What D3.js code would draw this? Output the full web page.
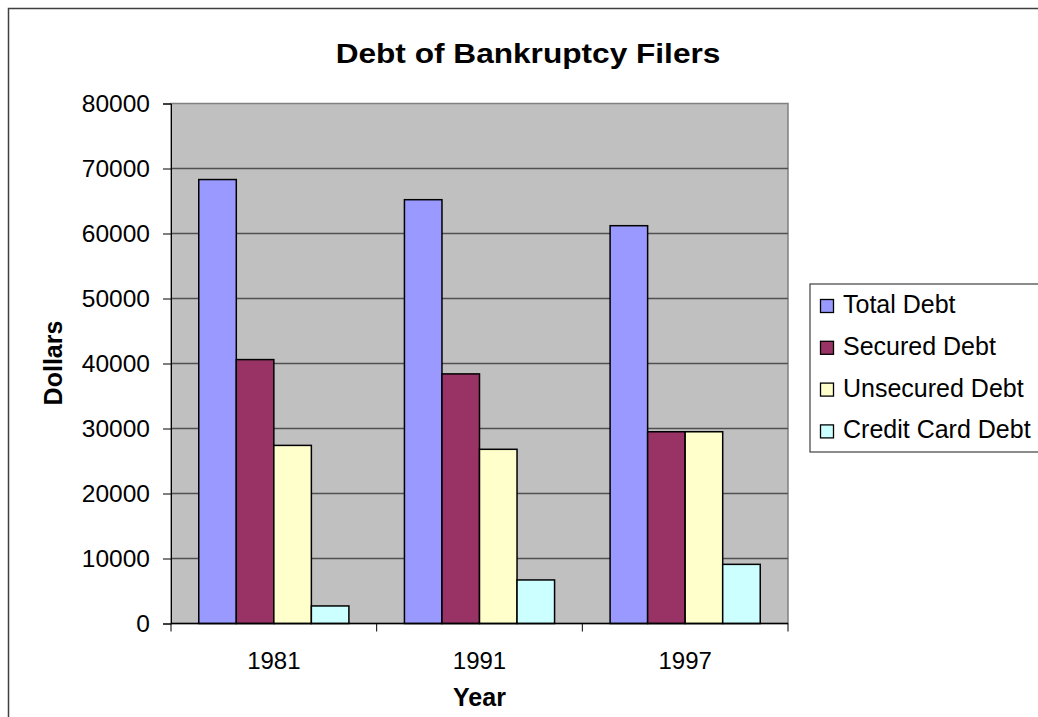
<!DOCTYPE html>
<html>
<head>
<meta charset="utf-8">
<script src="https://cdn.jsdelivr.net/npm/d3@7"></script>
<style>
  html, body { margin: 0; padding: 0; background: #ffffff; }
  svg { display: block; font-family: "Liberation Sans", Arial, sans-serif; }
</style>
</head>
<body>
<svg id="chart" width="1038" height="717"></svg>
<script>
const years = ["1981", "1991", "1997"];
const seriesNames = ["Total Debt", "Secured Debt", "Unsecured Debt", "Credit Card Debt"];
const totalDebt = [68300, 65200, 61200];
const securedDebt = [40600, 38400, 29500];
const unsecuredDebt = [27400, 26800, 29500];
const creditCardDebt = [2700, 6700, 9100];
const seriesColors = ["#9999ff", "#993366", "#ffffcc", "#ccffff"];
const yTicks = [0, 10000, 20000, 30000, 40000, 50000, 60000, 70000, 80000];
const chartTitle = "Debt of Bankruptcy Filers";
const xTitle = "Year";
const yTitle = "Dollars";

const seriesValues = [totalDebt, securedDebt, unsecuredDebt, creditCardDebt];

const svg = d3.select("#chart");
const plot = { left: 171, right: 788, top: 103.5, bottom: 623.5 };

// outer chart border
svg.append("rect")
  .attr("x", 8.5).attr("y", 8.5)
  .attr("width", 1045).attr("height", 720)
  .attr("fill", "#ffffff")
  .attr("stroke", "#404040").attr("stroke-width", 1.5);

const x0 = d3.scaleBand().domain(years).range([plot.left, plot.right])
  .paddingInner(0.27).paddingOuter(0.135);
const x1 = d3.scaleBand().domain(seriesNames).range([0, x0.bandwidth()]);
const y = d3.scaleLinear().domain([0, 80000]).range([plot.bottom, plot.top]);

// plot background
svg.append("rect")
  .attr("x", plot.left).attr("y", plot.top)
  .attr("width", plot.right - plot.left).attr("height", plot.bottom - plot.top)
  .attr("fill", "#c0c0c0")
  .attr("stroke", "#808080").attr("stroke-width", 1.5);

// gridlines
svg.append("g").selectAll("line")
  .data(yTicks.filter(t => t > 0 && t < 80000))
  .join("line")
  .attr("x1", plot.left).attr("x2", plot.right)
  .attr("y1", d => y(d)).attr("y2", d => y(d))
  .attr("stroke", "#505050").attr("stroke-width", 1.3);

// bars
const groups = svg.append("g").selectAll("g")
  .data(years)
  .join("g")
  .attr("transform", d => `translate(${x0(d)},0)`);

groups.selectAll("rect")
  .data((d, i) => seriesNames.map((s, j) => ({ s, j, v: seriesValues[j][i] })))
  .join("rect")
  .attr("x", d => x1(d.s))
  .attr("y", d => y(d.v))
  .attr("width", x1.bandwidth())
  .attr("height", d => y(0) - y(d.v))
  .attr("fill", d => seriesColors[d.j])
  .attr("stroke", "#000000").attr("stroke-width", 1.5);

// y axis
const yAxis = d3.axisLeft(y).tickValues(yTicks).tickSize(8).tickPadding(13).tickFormat(d3.format("d"));
const yg = svg.append("g").attr("transform", `translate(${plot.left},0)`).call(yAxis);
yg.select(".domain").attr("stroke", "#000").attr("stroke-width", 1);
yg.selectAll(".tick line").attr("stroke", "#000");
yg.selectAll("text").attr("font-size", 24.5).attr("fill", "#000")
  .attr("font-family", "Liberation Sans, Arial, sans-serif");

// x axis
const xAxis = d3.axisBottom(x0).tickSize(0).tickPadding(28);
const xg = svg.append("g").attr("transform", `translate(0,${plot.bottom})`).call(xAxis);
xg.select(".domain").remove();
xg.selectAll("text").attr("font-size", 24).attr("fill", "#000")
  .attr("font-family", "Liberation Sans, Arial, sans-serif");
svg.append("line")
  .attr("x1", plot.left).attr("x2", plot.right)
  .attr("y1", plot.bottom).attr("y2", plot.bottom)
  .attr("stroke", "#000").attr("stroke-width", 1.5);
// category boundary ticks
const boundaries = [plot.left].concat(years.map(d => x0(d) + x0.bandwidth() + x0.step() * 0.135));
svg.append("g").selectAll("line")
  .data(boundaries)
  .join("line")
  .attr("x1", d => d).attr("x2", d => d)
  .attr("y1", plot.bottom).attr("y2", plot.bottom + 8)
  .attr("stroke", "#000").attr("stroke-width", 1);

// titles
svg.append("text")
  .attr("transform", "translate(528,63) scale(1.15,1)")
  .attr("text-anchor", "middle")
  .attr("font-size", 27.5).attr("font-weight", "bold")
  .text(chartTitle);

svg.append("text")
  .attr("x", (plot.left + plot.right) / 2).attr("y", 706)
  .attr("text-anchor", "middle")
  .attr("font-size", 25).attr("font-weight", "bold")
  .text(xTitle);

svg.append("text")
  .attr("transform", `translate(62,363) rotate(-90)`)
  .attr("text-anchor", "middle")
  .attr("font-size", 25).attr("font-weight", "bold")
  .text(yTitle);

// legend
const legend = svg.append("g");
legend.append("rect")
  .attr("x", 810).attr("y", 284)
  .attr("width", 240).attr("height", 168)
  .attr("fill", "#ffffff")
  .attr("stroke", "#404040").attr("stroke-width", 1.2);
const items = legend.selectAll("g.item")
  .data(seriesNames)
  .join("g").attr("class", "item")
  .attr("transform", (d, i) => `translate(0,${i * 41.8})`);
items.append("rect")
  .attr("x", 820.5).attr("y", 299.5)
  .attr("width", 13).attr("height", 13)
  .attr("fill", (d, i) => seriesColors[i])
  .attr("stroke", "#000").attr("stroke-width", 1.3);
items.append("text")
  .attr("x", 843).attr("y", 313)
  .attr("font-size", 25)
  .text(d => d);
</script>
</body>
</html>
